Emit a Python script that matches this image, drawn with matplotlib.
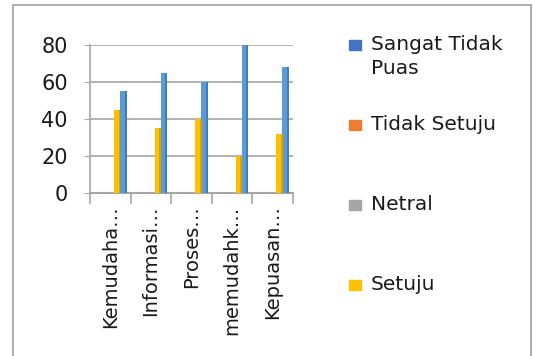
import numpy as np
import matplotlib
matplotlib.use("Agg")
import matplotlib.pyplot as plt
from matplotlib.patches import Rectangle

# ============================================================
# DATA
# ============================================================

categories = ["Kemudahan", "Informasi", "Proses", "memudahkan", "Kepuasan"]
tick_labels = ["Kemudaha…", "Informasi…", "Proses…", "memudahk…", "Kepuasan…"]
series_names = ["Sangat Tidak\nPuas", "Tidak Setuju", "Netral", "Setuju"]
sangat_tidak_puas = [55, 65, 60, 80, 68]
tidak_setuju = [0, 0, 0, 0, 0]
netral = [0, 0, 0, 0, 0]
setuju = [45, 35, 40, 20, 32]

colors = ["#5B9BD5", "#ED7D31", "#A5A5A5", "#FFC000"]
side_colors = ["#3F7DB8", "#C0622A", "#858585", "#D9A300"]
legend_colors = ["#4472C4", "#ED7D31", "#A5A5A5", "#FFC000"]

# ============================================================
# FIGURE
# ============================================================

plt.rcParams["font.family"] = ["DejaVu Sans"]
fig = plt.figure(figsize=(5.33, 3.56), dpi=100)
W, H = 533, 356

# outer frame
fig.patches.append(Rectangle((13 / W, -0.05), (531 - 13) / W, 1.05 - 5 / H,
                             transform=fig.transFigure, fill=False,
                             edgecolor="#A6A6A6", linewidth=1.3))

ax = fig.add_axes([90 / W, 1 - 193 / H, (293 - 90) / W, (193 - 45) / H])

x = np.arange(len(categories))
all_series = [sangat_tidak_puas, tidak_setuju, netral, setuju]
offsets = [0.32, 0.27, 0.22, 0.17]
bw = 0.16

for vals, off, c, sc in zip(all_series, offsets, colors, side_colors):
    ax.bar(x + off, vals, width=bw, color=c, linewidth=0, zorder=3)
    ax.bar(x + off + bw * 0.35, vals, width=bw * 0.3, color=sc, linewidth=0, zorder=3)

ax.set_xlim(-0.5, len(categories) - 0.5)
ax.set_ylim(0, 80)
ax.set_yticks([0, 20, 40, 60, 80])
ax.yaxis.grid(True, color="#A6A6A6", linewidth=1.2, zorder=0)
ax.set_axisbelow(True)

for s in ["top", "right"]:
    ax.spines[s].set_visible(False)
ax.spines["left"].set_color("#A6A6A6")
ax.spines["bottom"].set_color("#A6A6A6")
ax.spines["left"].set_linewidth(1.2)
ax.spines["bottom"].set_linewidth(1.5)

ax.tick_params(axis="y", length=4, color="#A6A6A6", labelsize=15, pad=12, labelcolor="#1A1A1A")
ax.set_xticks(x)
ax.set_xticklabels(tick_labels, rotation=90, fontsize=14, color="#1A1A1A")
ax.tick_params(axis="x", which="major", length=0, pad=9)
ax.set_xticks(np.arange(-0.5, len(categories)), minor=True)
ax.tick_params(axis="x", which="minor", length=8, color="#A6A6A6", width=1.2)

# legend drawn manually
legend_y = [45, 125, 205, 285]
for name, c, yy in zip(series_names, legend_colors, legend_y):
    fig.patches.append(Rectangle((349 / W, 1 - (yy + 5) / H), 12 / W, 10 / H,
                                 transform=fig.transFigure, color=c))
    fig.text(371 / W, 1 - (yy - 10) / H, name, fontsize=14.5, va="top", ha="left",
             color="#1A1A1A", linespacing=1.3)

fig.savefig("out.png", dpi=100)
